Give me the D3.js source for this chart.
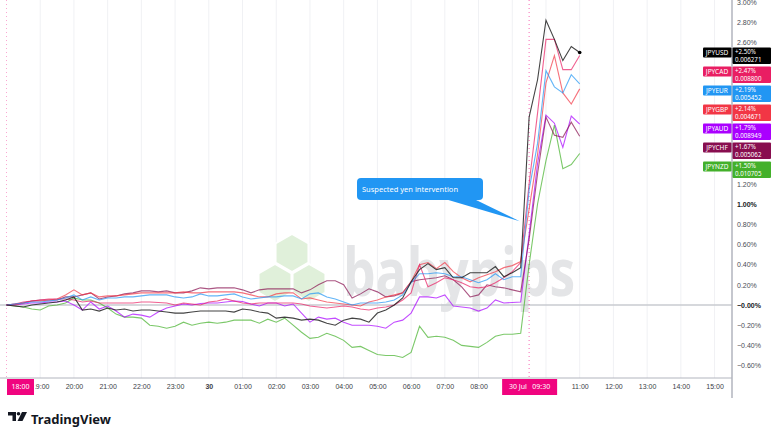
<!DOCTYPE html>
<html>
<head>
<meta charset="utf-8">
<script src="https://cdn.jsdelivr.net/npm/d3@7"></script>
<style>
  body { margin: 0; background: #ffffff; }
  svg { font-family: "Noto Sans", sans-serif; display: block; }
</style>
</head>
<body>
<div class="chart"></div>
<script>
// 15 minute closes, % change since 18:00
var jpyusd = [0, -0.01, -0.02, 0, 0.01, 0.02, 0.03, 0.05, 0.08, -0.05,
  -0.04, -0.06, -0.03, -0.05, -0.04, -0.06, -0.05, -0.05, -0.06, -0.07,
  -0.08, -0.08, -0.07, -0.06, -0.06, -0.06, -0.06, -0.07, -0.04, -0.05,
  -0.07, -0.08, -0.13, -0.12, -0.13, -0.15, -0.14, -0.15, -0.18, -0.20,
  -0.15, -0.13, -0.14, -0.17, -0.08, -0.05, 0.00, 0.07, 0.23, 0.35,
  0.41, 0.35, 0.37, 0.27, 0.27, 0.32, 0.32, 0.32, 0.38, 0.28,
  0.32, 0.37, 1.86, 2.23, 2.82, 2.63, 2.42, 2.56, 2.50];
var jpycad = [0, 0.01, 0.03, 0.04, 0.05, 0.06, 0.06, 0.06, 0.05, 0.03,
  0.04, 0.02, 0.02, 0.02, 0.02, 0.02, 0.03, 0.03, 0.025, 0.02,
  0.00, 0.02, 0.01, 0.00, 0.03, 0.04, 0.06, 0.04, 0.02, 0.01,
  0.02, 0.02, 0.02, 0.02, 0.02, 0.01, -0.01, -0.02, -0.03, -0.02,
  -0.01, -0.02, -0.04, -0.05, -0.03, -0.02, 0.00, 0.05, 0.12, 0.40,
  0.18, 0.22, 0.27, 0.25, 0.22, 0.18, 0.17, 0.18, 0.22, 0.27,
  0.33, 0.42, 1.20, 1.90, 2.63, 2.63, 2.33, 2.33, 2.47];
var jpyeur = [0, 0.01, 0.02, 0.03, 0.03, 0.04, 0.05, 0.07, 0.10, 0.05,
  0.08, 0.05, 0.07, 0.07, 0.08, 0.08, 0.09, 0.10, 0.10, 0.10,
  0.08, 0.07, 0.08, 0.11, 0.09, 0.09, 0.10, 0.11, 0.08, 0.06,
  0.07, 0.08, 0.08, 0.09, 0.09, 0.06, 0.11, 0.12, 0.08, 0.06,
  0.03, 0.00, 0.02, 0.02, 0.02, 0.03, 0.05, 0.10, 0.22, 0.31,
  0.31, 0.32, 0.31, 0.28, 0.28, 0.25, 0.22, 0.25, 0.31, 0.25,
  0.28, 0.28, 1.14, 1.60, 2.32, 2.16, 2.10, 2.28, 2.19];
var jpygbp = [0, 0.00, 0.02, 0.04, 0.04, 0.05, 0.06, 0.10, 0.15, 0.10,
  0.12, 0.08, 0.09, 0.09, 0.10, 0.11, 0.12, 0.12, 0.12, 0.12,
  0.12, 0.13, 0.12, 0.12, 0.13, 0.13, 0.13, 0.13, 0.12, 0.10,
  0.08, 0.08, 0.11, 0.12, 0.12, 0.06, 0.07, 0.05, 0.03, 0.02,
  0.01, 0.00, -0.01, 0.03, 0.05, 0.08, 0.10, 0.12, 0.23, 0.40,
  0.42, 0.36, 0.42, 0.33, 0.27, 0.23, 0.27, 0.30, 0.33, 0.37,
  0.39, 0.43, 0.95, 1.49, 2.20, 2.47, 2.10, 1.99, 2.14];
var jpyaud = [0, 0.00, 0.01, 0.02, 0.02, 0.03, 0.03, 0.04, 0.00, -0.05,
  0.03, -0.04, -0.01, -0.06, -0.12, -0.09, -0.10, -0.12, -0.07, -0.03,
  -0.01, 0.01, 0.00, 0.015, 0.02, 0.02, 0.03, 0.04, 0.035, 0.01,
  -0.01, 0.02, 0.02, -0.01, 0.01, -0.08, -0.17, -0.12, -0.14, -0.13,
  -0.17, -0.20, -0.20, -0.20, -0.21, -0.23, -0.17, -0.15, -0.08, 0.08,
  0.08, 0.07, 0.10, -0.01, -0.02, -0.03, -0.06, -0.03, 0.05, 0.02,
  0.025, 0.03, 0.70, 1.40, 1.88, 1.80, 1.56, 1.87, 1.79];
var jpychf = [0, 0.01, 0.02, 0.04, 0.05, 0.05, 0.05, 0.08, 0.08, 0.10,
  0.12, 0.06, 0.08, 0.09, 0.11, 0.12, 0.14, 0.14, 0.13, 0.14,
  0.12, 0.12, 0.14, 0.17, 0.16, 0.17, 0.17, 0.17, 0.15, 0.12,
  0.15, 0.16, 0.16, 0.16, 0.16, 0.12, 0.15, 0.20, 0.24, 0.24,
  0.20, 0.07, 0.11, 0.16, 0.13, 0.08, 0.09, 0.12, 0.23, 0.25,
  0.26, 0.27, 0.29, 0.25, 0.18, 0.08, 0.10, 0.20, 0.18, 0.17,
  0.15, 0.13, 0.65, 1.30, 1.86, 1.68, 1.66, 1.81, 1.67];
var jpynzd = [0, -0.01, -0.02, -0.04, -0.05, -0.01, 0.00, 0.02, 0.07, 0.05,
  0.05, 0.02, -0.03, -0.09, -0.12, -0.12, -0.13, -0.20, -0.21, -0.23,
  -0.21, -0.17, -0.20, -0.18, -0.17, -0.18, -0.17, -0.15, -0.15, -0.15,
  -0.18, -0.14, -0.17, -0.13, -0.20, -0.27, -0.33, -0.32, -0.28, -0.31,
  -0.35, -0.42, -0.41, -0.45, -0.49, -0.50, -0.50, -0.52, -0.47, -0.21,
  -0.32, -0.31, -0.32, -0.35, -0.40, -0.41, -0.42, -0.37, -0.31, -0.29,
  -0.29, -0.28, 0.40, 1.00, 1.43, 1.78, 1.35, 1.39, 1.50];

var symbols = ["JPYUSD", "JPYCAD", "JPYEUR", "JPYGBP", "JPYAUD", "JPYCHF", "JPYNZD"];
var lastPrices = ["0.006271", "0.008800", "0.005452", "0.004671", "0.008949", "0.005062", "0.010705"];
var labelColors = ["#000000", "#e91e63", "#2196f3", "#f23645", "#aa00ff", "#880e4f", "#43b02a"];
var lineColors = ["#222222", "#e91e63", "#2196f3", "#f23645", "#aa00ff", "#880e4f", "#43b02a"];
var seriesValues = [jpyusd, jpycad, jpyeur, jpygbp, jpyaud, jpychf, jpynzd];

var yTicks = [-0.6, -0.4, -0.2, 0, 0.2, 0.4, 0.6, 0.8, 1.0, 1.2, 1.4, 1.6, 1.8, 2.0, 2.2, 2.4, 2.6, 2.8, 3.0];
var startTime = new Date(2024, 6, 29, 18, 0);
var times = jpyusd.map((d, i) => d3.timeMinute.offset(startTime, 15 * i));
var hourTicks = d3.timeHour.range(new Date(2024, 6, 29, 19, 0), new Date(2024, 6, 30, 15, 30));

var svgWidth = 780;
var svgHeight = 438;
var plotRight = 732;
var plotBottom = 378;

var svg = d3.select(".chart")
  .append("svg")
  .attr("width", svgWidth)
  .attr("height", svgHeight);

svg.append("rect").attr("width", svgWidth).attr("height", svgHeight).attr("fill", "#ffffff");

// scales
var xScale = d3.scaleTime()
  .domain([times[0], times[times.length - 1]])
  .range([6.5, 579.7]);

var yScale = d3.scaleLinear()
  .domain([-0.6, 3.0])
  .range([365.6, 2]);

// vertical grid
svg.append("g")
  .selectAll("line")
  .data(hourTicks)
  .enter()
  .append("line")
  .attr("x1", d => xScale(d))
  .attr("x2", d => xScale(d))
  .attr("y1", 0)
  .attr("y2", plotBottom)
  .attr("stroke", "#f0f1f4")
  .attr("stroke-width", 1);

// babypips watermark
var wm = svg.append("g");
var hexPts = r => d3.range(6).map(k => [r * Math.cos(Math.PI / 3 * k + Math.PI / 6), r * Math.sin(Math.PI / 3 * k + Math.PI / 6)].join(",")).join(" ");
[[292, 253], [275, 283], [309, 283]].forEach(function(c) {
  wm.append("polygon")
    .attr("points", hexPts(19))
    .attr("transform", `translate(${c[0]},${c[1]})`)
    .attr("fill", "#e0f0da")
    .attr("stroke", "#ffffff")
    .attr("stroke-width", 2);
});
wm.append("text")
  .attr("x", 343)
  .attr("y", 296)
  .attr("font-size", 66)
  .attr("font-weight", "bold")
  .attr("font-family", "'Open Sans', sans-serif")
  .attr("fill", "#e4e5e7")
  .attr("textLength", 232)
  .attr("lengthAdjust", "spacingAndGlyphs")
  .text("babypips");

// zero line
svg.append("line")
  .attr("x1", 0).attr("x2", plotRight)
  .attr("y1", yScale(0)).attr("y2", yScale(0))
  .attr("stroke", "#c9cbd1")
  .attr("stroke-width", 1.5);

// crosshair / range markers
[times[0], times[62]].forEach(function(t, i) {
  svg.append("line")
    .attr("x1", xScale(t)).attr("x2", xScale(t))
    .attr("y1", 0).attr("y2", plotBottom)
    .attr("stroke", "#f0047f")
    .attr("stroke-opacity", i == 0 ? 0.35 : 0.6)
    .attr("stroke-dasharray", "1,3");
});

// lines
var line = d3.line()
  .x((d, i) => xScale(times[i]))
  .y(d => yScale(d));

var order = [6, 4, 5, 3, 1, 2, 0];
svg.append("g")
  .selectAll("path")
  .data(order)
  .enter()
  .append("path")
  .attr("d", k => line(seriesValues[k]))
  .attr("fill", "none")
  .attr("stroke", k => lineColors[k])
  .attr("stroke-opacity", k => k == 0 ? 0.85 : 0.7)
  .attr("stroke-width", 1.1);

svg.append("circle")
  .attr("cx", xScale(times[times.length - 1]))
  .attr("cy", yScale(jpyusd[jpyusd.length - 1]))
  .attr("r", 1.8)
  .attr("fill", "#000");

// annotation
var ann = svg.append("g");
ann.append("path")
  .attr("d", `M445,199 L474,199 L${xScale(times[61]) - 1},${yScale(0.83)} Z`)
  .attr("fill", "#2196f3");
ann.append("rect")
  .attr("x", 357).attr("y", 178)
  .attr("width", 126).attr("height", 22)
  .attr("rx", 4)
  .attr("fill", "#2196f3");
ann.append("text")
  .attr("x", 362).attr("y", 189)
  .attr("dy", "0.35em")
  .attr("font-size", 7.5)
  .attr("fill", "#ffffff")
  .text("Suspected yen intervention");

// axes lines
svg.append("line")
  .attr("x1", 0).attr("x2", plotRight)
  .attr("y1", plotBottom).attr("y2", plotBottom)
  .attr("stroke", "#b2b5be");
svg.append("line")
  .attr("x1", plotRight).attr("x2", plotRight)
  .attr("y1", 0).attr("y2", 398)
  .attr("stroke", "#b2b5be")
  .attr("stroke-width", 1.5);

// bottom axis (09:00 and 10:00 sit under the 09:30 marker label)
var bottomAxis = d3.axisBottom(xScale)
  .tickValues(hourTicks.filter(d => d.getHours() !== 9 && d.getHours() !== 10))
  .tickSize(0)
  .tickPadding(6)
  .tickFormat(d => d.getHours() === 0 ? "30" : d3.timeFormat("%H:%M")(d));

var xAxisGroup = svg.append("g")
  .attr("transform", `translate(0, ${plotBottom})`)
  .call(bottomAxis);
xAxisGroup.select(".domain").remove();
xAxisGroup.selectAll("text")
  .attr("font-size", 7)
  .attr("fill", "#3b3e46")
  .attr("font-weight", d => d.getHours() === 0 ? "bold" : "normal");

// 19:00 is partly covered by the 18:00 marker label
xAxisGroup.append("clipPath").attr("id", "afterFirst")
  .append("rect")
  .attr("x", 34.5 - xScale(hourTicks[0]))
  .attr("y", -5).attr("width", 60).attr("height", 30);
xAxisGroup.selectAll(".tick")
  .filter(d => d.getHours() === 19)
  .select("text")
  .attr("clip-path", "url(#afterFirst)");

// legend boxes on the price scale
var tops = [];
var prevTop = -100;
seriesValues.forEach(function(vals, k) {
  var top = Math.max(yScale(vals[vals.length - 1]) - 5, prevTop + 19);
  tops.push(top);
  prevTop = top;
});

// right axis, skip labels hidden by the legend boxes
var rightAxis = d3.axisRight(yScale)
  .tickValues(yTicks.filter(v => !tops.some(t => yScale(v) > t - 4 && yScale(v) < t + 20)))
  .tickSize(0)
  .tickPadding(5)
  .tickFormat(v => (v < 0.001 ? "\u2212" : "") + Math.abs(v).toFixed(2) + "%");

var yAxisGroup = svg.append("g")
  .attr("transform", `translate(${plotRight}, 0)`)
  .call(rightAxis);
yAxisGroup.select(".domain").remove();
yAxisGroup.selectAll("text")
  .attr("font-size", 7)
  .attr("fill", v => (v === 0 || v === 1) ? "#131722" : "#4a4d55")
  .attr("font-weight", v => (v === 0 || v === 1) ? "bold" : "normal");

var legend = svg.append("g");
seriesValues.forEach(function(vals, k) {
  var top = tops[k];
  var last = vals[vals.length - 1];
  legend.append("rect")
    .attr("x", 703).attr("y", top)
    .attr("width", 28.5).attr("height", 10)
    .attr("rx", 1)
    .attr("fill", labelColors[k]);
  legend.append("text")
    .attr("x", 717).attr("y", top + 5)
    .attr("dy", "0.35em")
    .attr("text-anchor", "middle")
    .attr("font-size", 6.5)
    .attr("fill", "#ffffff")
    .text(symbols[k]);
  legend.append("rect")
    .attr("x", 732.5).attr("y", top)
    .attr("width", 38.5).attr("height", 16.5)
    .attr("rx", 1)
    .attr("fill", labelColors[k]);
  legend.append("text")
    .attr("x", 735).attr("y", top + 4.3)
    .attr("dy", "0.35em")
    .attr("font-size", 6.2)
    .attr("fill", "#ffffff")
    .text((last >= 0 ? "+" : "\u2212") + last.toFixed(2) + "%");
  legend.append("text")
    .attr("x", 735).attr("y", top + 12.6)
    .attr("dy", "0.35em")
    .attr("font-size", 6.2)
    .attr("fill", "#ffffff")
    .text(lastPrices[k]);
});

// time labels of the selected points
function timeBox(x0, x1, label) {
  svg.append("rect")
    .attr("x", x0).attr("y", 379)
    .attr("width", x1 - x0).attr("height", 16)
    .attr("fill", "#f0047f");
  svg.append("text")
    .attr("x", (x0 + x1) / 2).attr("y", 387)
    .attr("dy", "0.35em")
    .attr("text-anchor", "middle")
    .attr("font-size", 7)
    .attr("fill", "#ffffff")
    .attr("xml:space", "preserve")
    .text(label);
}
timeBox(7, 34, "18:00");
timeBox(xScale(times[62]) - 27, xScale(times[62]) + 28, "30 Jul   09:30");

// TradingView logo
var logo = svg.append("g").attr("transform", "translate(8, 412)");
logo.append("path")
  .attr("d", "M0,0 H8 V9 H4.5 V3.5 H0 Z")
  .attr("fill", "#131722");
logo.append("circle").attr("cx", 10.5).attr("cy", 1.8).attr("r", 1.8).attr("fill", "#131722");
logo.append("path")
  .attr("d", "M14,0 H19 L14.5,9 H9.5 Z")
  .attr("fill", "#131722");
svg.append("text")
  .attr("x", 31).attr("y", 424)
  .attr("font-size", 13)
  .attr("font-weight", "bold")
  .attr("fill", "#131722")
  .text("TradingView");
</script>
</body>
</html>
